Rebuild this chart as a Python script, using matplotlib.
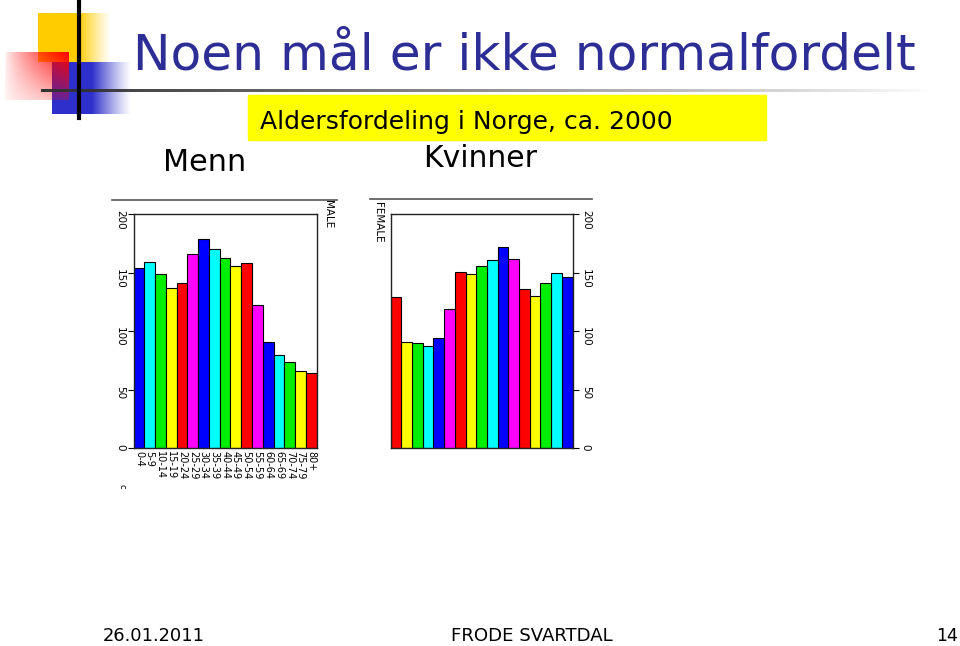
import numpy as np
import matplotlib
matplotlib.use("Agg")
import matplotlib.pyplot as plt

# age groups and population (thousands)
ages = ["0-4", "5-9", "10-14", "15-19", "20-24", "25-29", "30-34", "35-39",
        "40-44", "45-49", "50-54", "55-59", "60-64", "65-69", "70-74", "75-79", "80+"]
male = [154, 159, 149, 137, 141, 166, 179, 170, 163, 156, 158, 122, 91, 80, 74, 66, 64]
female = [146, 150, 141, 130, 136, 162, 172, 161, 156, 149, 151, 119, 94, 87, 90, 91, 129]
yticks = [0, 50, 100, 150, 200]
cycle = ["#0000ff", "#00ffff", "#00ee00", "#ffff00", "#ff0000", "#ff00ff"]
bar_colors = [cycle[i % len(cycle)] for i in range(len(ages))]

W, H = 960, 646
fig = plt.figure(figsize=(W / 100, H / 100), dpi=100)
plt.rcParams["font.family"] = "DejaVu Sans"

# background layer in pixel coordinates
bg = fig.add_axes([0, 0, 1, 1], zorder=-1)
bg.set_xlim(0, W)
bg.set_ylim(H, 0)
bg.axis("off")


def grad(x0, x1, y0, y1, rgb, alpha):
    img = np.zeros(alpha.shape + (4,))
    img[..., :3] = matplotlib.colors.to_rgb(rgb)
    img[..., 3] = alpha
    bg.imshow(img, extent=(x0, x1, y1, y0), aspect="auto", interpolation="bilinear", zorder=1)


# yellow square, solid then fading right
xs = np.linspace(0, 1, 80)
a = np.clip((1 - xs) / 0.45, 0, 1) ** 1.2
grad(38, 112, 13, 62, "#ffcc00", np.tile(a, (10, 1)))
# blue square
a = np.clip((1 - xs) / 0.5, 0, 1) ** 1.2
grad(52, 132, 62, 114, "#2f2fcc", np.tile(a, (10, 1)))
# red rectangle, strongest at the top right corner
gx, gy = np.meshgrid(np.linspace(0, 1, 60), np.linspace(0, 1, 50))
a = np.clip(gx ** 0.8 * (1 - 0.75 * gy), 0, 1) * 0.95 + 0.05
grad(5, 69, 52, 100, "#ff0000", a)
# black vertical line and fading horizontal rule
bg.plot([79, 79], [0, 118], color="black", lw=3, zorder=3)
xs = np.linspace(0, 1, 300)
grad(41, 935, 89.5, 92.5, "#333333", np.tile(np.clip(1 - xs, 0, 1) ** 0.9, (2, 1)))
bg.add_patch(plt.Rectangle((248, 95), 518, 45, color="#ffff00", zorder=2))

# frame lines above the two charts
bg.plot([112, 337], [200, 200], color="#555555", lw=1.2)
bg.plot([370, 592], [199, 199], color="#555555", lw=1.2)


def fit(t, width):
    r = fig.canvas.get_renderer()
    w = t.get_window_extent(r).width
    t.set_fontsize(t.get_fontsize() * width / w)


title = bg.text(133, 70, "Noen mål er ikke normalfordelt", color="#2d2d96",
                fontsize=40, va="baseline", ha="left")
fit(title, 782)
sub = bg.text(260, 129, "Aldersfordeling i Norge, ca. 2000", color="black",
              fontsize=18, va="baseline", ha="left", zorder=4)
fit(sub, 413)
t = bg.text(163, 171, "Menn", fontsize=20, va="baseline", ha="left")
fit(t, 83)
t = bg.text(423, 167, "Kvinner", fontsize=20, va="baseline", ha="left")
fit(t, 114)
t = bg.text(103, 645, "26.01.2011", fontsize=14, va="bottom", ha="left")
fit(t, 102)
t = bg.text(451, 645, "FRODE SVARTDAL", fontsize=14, va="bottom", ha="left")
fit(t, 163)
t = bg.text(958, 645, "14", fontsize=14, va="bottom", ha="right")
fit(t, 22)
bg.text(122, 486, "c", fontsize=6, rotation=270, ha="center", va="center")
bg.text(328, 200, "MALE", fontsize=7.5, rotation=270, ha="center", va="top")
bg.text(378, 202, "FEMALE", fontsize=7.5, rotation=270, ha="center", va="top")


def axes_px(x0, x1, y0, y1):
    return fig.add_axes([x0 / W, (H - y1) / H, (x1 - x0) / W, (y1 - y0) / H])


def style(ax, side):
    ax.set_xlim(-0.5, len(ages) - 0.5)
    ax.set_ylim(0, 200)
    ax.set_yticks(yticks)
    ax.set_yticklabels([str(v) for v in yticks], rotation=270, fontsize=7.5)
    for s in ax.spines.values():
        s.set_linewidth(1.0)
        s.set_color("#222222")
    ax.tick_params(axis="y", length=4, width=0.8, pad=2, left=(side == "left"),
                   right=(side == "right"), labelleft=(side == "left"),
                   labelright=(side == "right"))


ax1 = axes_px(133.5, 316.7, 214.2, 448.3)
ax1.bar(range(len(ages)), male, width=1.0, color=bar_colors, edgecolor="black", linewidth=0.8)
style(ax1, "left")
ax1.set_xticks(range(len(ages)))
ax1.set_xticklabels(ages, rotation=270, fontsize=7, linespacing=0.9)
ax1.tick_params(axis="x", length=0, pad=2)

ax2 = axes_px(390.7, 572.5, 214.2, 448.3)
ax2.bar(range(len(ages)), female, width=1.0, color=bar_colors, edgecolor="black", linewidth=0.8)
style(ax2, "right")
ax2.set_xticks([])
ax2.invert_xaxis()

fig.savefig("out.png", dpi=100)
